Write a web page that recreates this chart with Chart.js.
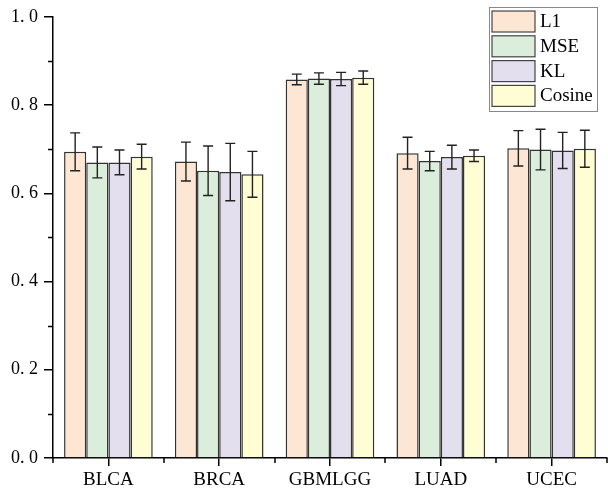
<!DOCTYPE html>
<html>
<head>
<meta charset="utf-8">
<script src="https://cdn.jsdelivr.net/npm/chart.js@4"></script>
<style>
  body { margin: 0; background: #fff; }
  canvas { display: block; }
</style>
</head>
<body>
<canvas id="lossBars" width="608" height="489"></canvas>
<script>
// categories and series
const cancers = ['BLCA', 'BRCA', 'GBMLGG', 'LUAD', 'UCEC'];
const seriesNames = ['L1', 'MSE', 'KL', 'Cosine'];

const l1Mean = [0.694, 0.672, 0.858, 0.691, 0.702];
const l1Err = [0.043, 0.044, 0.012, 0.036, 0.040];
const mseMean = [0.670, 0.651, 0.860, 0.673, 0.699];
const mseErr = [0.035, 0.056, 0.013, 0.022, 0.046];
const klMean = [0.670, 0.648, 0.859, 0.682, 0.697];
const klErr = [0.028, 0.065, 0.015, 0.027, 0.041];
const cosMean = [0.683, 0.643, 0.862, 0.685, 0.701];
const cosErr = [0.028, 0.052, 0.015, 0.013, 0.042];

const fills = ['#FDE6D3', '#DAEEDB', '#E3DFEE', '#FFFDD3'];
const serif = '"Liberation Serif", "Times New Roman", serif';

const means = [l1Mean, mseMean, klMean, cosMean];
const errs = [l1Err, mseErr, klErr, cosErr];

// error bars on top of every bar
const errorBars = {
    id: 'errorBars',
    afterDatasetsDraw: function (chart) {
        const ctx = chart.ctx;
        const y = chart.scales.y;
        ctx.save();
        ctx.strokeStyle = '#222';
        ctx.lineWidth = 1.4;
        chart.data.datasets.forEach(function (ds, i) {
            const meta = chart.getDatasetMeta(i);
            meta.data.forEach(function (bar, j) {
                const top = y.getPixelForValue(ds.data[j] + ds.err[j]);
                const bot = y.getPixelForValue(ds.data[j] - ds.err[j]);
                ctx.beginPath();
                ctx.moveTo(bar.x, top); ctx.lineTo(bar.x, bot);
                ctx.moveTo(bar.x - 5, top); ctx.lineTo(bar.x + 5, top);
                ctx.moveTo(bar.x - 5, bot); ctx.lineTo(bar.x + 5, bot);
                ctx.stroke();
            });
        });
        ctx.restore();
    }
};

// minor ticks on both axes + boxed legend
const extras = {
    id: 'extras',
    afterDraw: function (chart) {
        const ctx = chart.ctx;
        const x = chart.scales.x;
        const y = chart.scales.y;
        const area = chart.chartArea;
        ctx.save();
        ctx.strokeStyle = '#000';
        ctx.lineWidth = 1.5;
        ctx.beginPath();
        for (let v = 0.1; v < 1; v += 0.2) {
            const py = Math.round(y.getPixelForValue(v)) + 0.5;
            ctx.moveTo(area.left, py); ctx.lineTo(area.left - 5, py);
        }
        for (let k = 0; k <= cancers.length; k++) {
            const px = Math.round(x.getPixelForValue(k - 0.5));
            ctx.moveTo(px, area.bottom); ctx.lineTo(px, area.bottom + 5);
        }
        ctx.stroke();

        // legend
        const lx = 489, ly = 7, lw = 108, lh = 104;
        ctx.fillStyle = '#fff';
        ctx.fillRect(lx, ly, lw, lh);
        ctx.strokeStyle = '#888';
        ctx.lineWidth = 1;
        ctx.strokeRect(lx + 0.5, ly + 0.5, lw, lh);
        ctx.font = '19px ' + serif;
        ctx.textBaseline = 'middle';
        chart.data.datasets.forEach(function (ds, i) {
            const ry = ly + 4 + i * 24.8;
            ctx.fillStyle = ds.backgroundColor;
            ctx.fillRect(lx + 3, ry, 43, 21);
            ctx.strokeStyle = '#444';
            ctx.lineWidth = 1.2;
            ctx.strokeRect(lx + 3, ry, 43, 21);
            ctx.fillStyle = '#000';
            ctx.fillText(ds.label, lx + 51, ry + 11);
        });
        ctx.restore();
    }
};

const datasets = seriesNames.map(function (name, i) {
    return {
        label: name,
        data: means[i],
        err: errs[i],
        backgroundColor: fills[i],
        borderColor: '#333',
        borderWidth: 1.5,
        barPercentage: 1.0,
        categoryPercentage: 0.8
    };
});

const config = {
    type: 'bar',
    data: { labels: cancers, datasets: datasets },
    options: {
        responsive: false,
        animation: false,
        devicePixelRatio: 1,
        layout: { padding: { top: 11, right: 1, left: 0, bottom: 0 } },
        plugins: { legend: { display: false }, tooltip: { enabled: false } },
        scales: {
            x: {
                grid: { display: true, drawOnChartArea: false, offset: false, tickLength: 8, color: '#000', lineWidth: 1.5 },
                border: { color: '#000', width: 1.5 },
                ticks: { color: '#000', font: { family: serif, size: 19 }, padding: 3 },
                afterFit: function (s) { s.height = 31; }
            },
            y: {
                min: 0,
                max: 1,
                grid: { display: true, drawOnChartArea: false, tickLength: 9, color: '#000', lineWidth: 1.5 },
                border: { color: '#000', width: 1.5 },
                ticks: {
                    stepSize: 0.2,
                    color: '#000',
                    padding: 6,
                    font: { family: serif, size: 18 },
                    callback: function (v) { return v.toFixed(1).replace('.', '. '); }
                },
                afterFit: function (s) { s.width = 53; }
            }
        }
    },
    plugins: [errorBars, extras]
};

const ctx = document.getElementById('lossBars').getContext('2d');
const lossChart = new Chart(ctx, config);
</script>
</body>
</html>
